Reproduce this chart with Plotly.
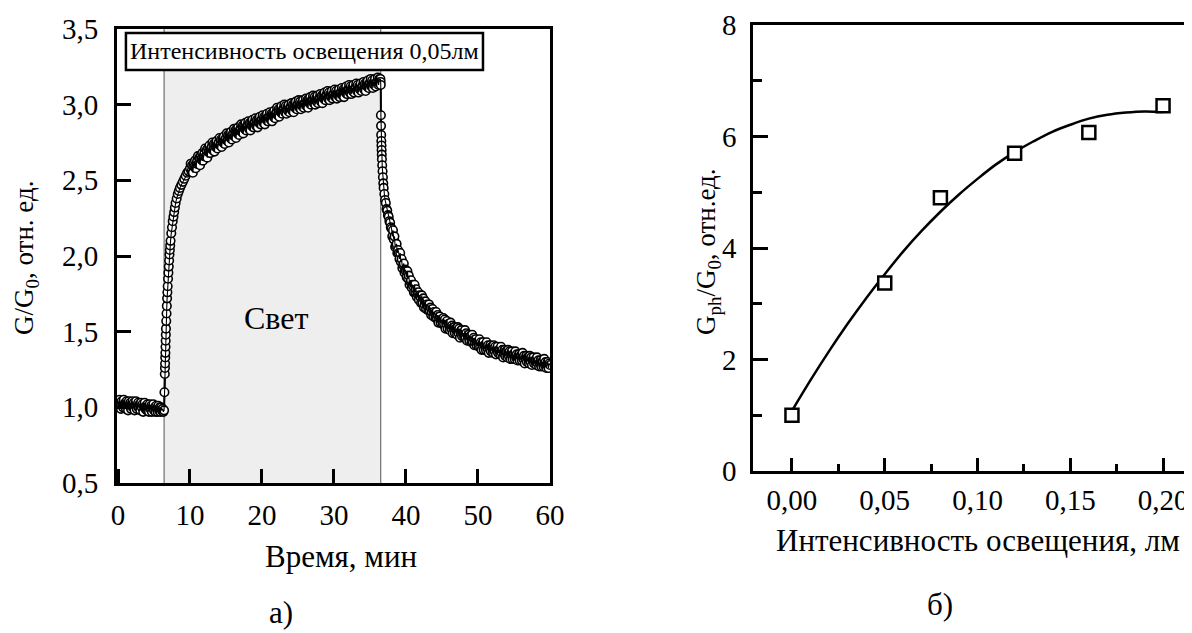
import plotly.graph_objects as go

# ---------------- Panel a) : G/G0 vs time (min) ----------------
dark_t = [0.0, 0.1, 0.2, 0.3, 0.4, 0.5, 0.6, 0.7, 0.8, 0.9,
          1.0, 1.1, 1.2, 1.3, 1.4, 1.5, 1.6, 1.7, 1.8, 1.9,
          2.0, 2.1, 2.2, 2.3, 2.4, 2.5, 2.6, 2.7, 2.8, 2.9,
          3.0, 3.1, 3.2, 3.3, 3.4, 3.5, 3.6, 3.7, 3.8, 3.9,
          4.0, 4.1, 4.2, 4.3, 4.4, 4.5, 4.6, 4.7, 4.8, 4.9,
          5.0, 5.1, 5.2, 5.3, 5.4, 5.5, 5.6, 5.7, 5.8, 5.9,
          6.0, 6.1, 6.2, 6.3, 6.4]
dark_g = [1.03, 1.00, 1.05, 1.01, 0.99, 1.04, 1.02, 1.00, 1.05, 1.01,
          1.03, 0.99, 1.04, 1.01, 0.98, 1.04, 1.01, 1.03, 0.99, 1.02,
          1.04, 1.00, 1.03, 0.98, 1.02, 1.04, 0.99, 1.01, 1.03, 1.00,
          1.02, 0.98, 1.03, 1.00, 1.02, 0.97, 1.01, 1.03, 0.99, 1.01,
          0.98, 1.02, 1.00, 0.97, 1.02, 0.99, 1.01, 0.97, 1.00, 1.02,
          0.98, 1.00, 0.97, 1.01, 0.99, 0.97, 1.01, 0.98, 1.00, 0.97,
          1.00, 0.98, 0.99, 0.97, 0.98]

rise_fast_t = [6.45, 6.50, 6.52, 6.54, 6.56, 6.58, 6.60, 6.62, 6.64, 6.66, 6.70, 6.74, 6.78, 6.82,
               6.86, 6.90, 6.95, 7.00, 7.05, 7.10, 7.15, 7.20, 7.25, 7.30, 7.40, 7.50, 7.60, 7.70,
               7.80, 7.90, 8.00, 8.15, 8.30, 8.45, 8.60, 8.80, 9.00, 9.20, 9.40, 9.60, 9.80]
rise_fast_g = [1.10, 1.22, 1.26, 1.29, 1.33, 1.36, 1.40, 1.44, 1.48, 1.52, 1.57, 1.62, 1.67, 1.72,
               1.76, 1.80, 1.85, 1.89, 1.93, 1.97, 2.01, 2.04, 2.07, 2.10, 2.15, 2.19, 2.23, 2.26,
               2.29, 2.32, 2.35, 2.38, 2.41, 2.43, 2.45, 2.47, 2.49, 2.51, 2.53, 2.55, 2.56]

rise_slow_t = [10.0, 10.1, 10.2, 10.3, 10.4, 10.5, 10.6, 10.7, 10.8, 10.9,
               11.0, 11.1, 11.2, 11.3, 11.4, 11.5, 11.6, 11.7, 11.8, 11.9,
               12.0, 12.1, 12.2, 12.3, 12.4, 12.5, 12.6, 12.7, 12.8, 12.9,
               13.0, 13.1, 13.2, 13.3, 13.4, 13.5, 13.6, 13.7, 13.8, 13.9,
               14.0, 14.1, 14.2, 14.3, 14.4, 14.5, 14.6, 14.7, 14.8, 14.9,
               15.0, 15.1, 15.2, 15.3, 15.4, 15.5, 15.6, 15.7, 15.8, 15.9,
               16.0, 16.1, 16.2, 16.3, 16.4, 16.5, 16.6, 16.7, 16.8, 16.9,
               17.0, 17.1, 17.2, 17.3, 17.4, 17.5, 17.6, 17.7, 17.8, 17.9,
               18.0, 18.1, 18.2, 18.3, 18.4, 18.5, 18.6, 18.7, 18.8, 18.9,
               19.0, 19.1, 19.2, 19.3, 19.4, 19.5, 19.6, 19.7, 19.8, 19.9,
               20.0, 20.1, 20.2, 20.3, 20.4, 20.5, 20.6, 20.7, 20.8, 20.9,
               21.0, 21.1, 21.2, 21.3, 21.4, 21.5, 21.6, 21.7, 21.8, 21.9,
               22.0, 22.1, 22.2, 22.3, 22.4, 22.5, 22.6, 22.7, 22.8, 22.9,
               23.0, 23.1, 23.2, 23.3, 23.4, 23.5, 23.6, 23.7, 23.8, 23.9,
               24.0, 24.1, 24.2, 24.3, 24.4, 24.5, 24.6, 24.7, 24.8, 24.9,
               25.0, 25.1, 25.2, 25.3, 25.4, 25.5, 25.6, 25.7, 25.8, 25.9,
               26.0, 26.1, 26.2, 26.3, 26.4, 26.5, 26.6, 26.7, 26.8, 26.9,
               27.0, 27.1, 27.2, 27.3, 27.4, 27.5, 27.6, 27.7, 27.8, 27.9,
               28.0, 28.1, 28.2, 28.3, 28.4, 28.5, 28.6, 28.7, 28.8, 28.9,
               29.0, 29.1, 29.2, 29.3, 29.4, 29.5, 29.6, 29.7, 29.8, 29.9,
               30.0, 30.1, 30.2, 30.3, 30.4, 30.5, 30.6, 30.7, 30.8, 30.9,
               31.0, 31.1, 31.2, 31.3, 31.4, 31.5, 31.6, 31.7, 31.8, 31.9,
               32.0, 32.1, 32.2, 32.3, 32.4, 32.5, 32.6, 32.7, 32.8, 32.9,
               33.0, 33.1, 33.2, 33.3, 33.4, 33.5, 33.6, 33.7, 33.8, 33.9,
               34.0, 34.1, 34.2, 34.3, 34.4, 34.5, 34.6, 34.7, 34.8, 34.9,
               35.0, 35.1, 35.2, 35.3, 35.4, 35.5, 35.6, 35.7, 35.8, 35.9,
               36.0, 36.1, 36.2, 36.3, 36.4]
rise_slow_g = [2.58, 2.61, 2.56, 2.60, 2.55, 2.61, 2.59, 2.63, 2.58, 2.61,
               2.63, 2.66, 2.61, 2.65, 2.60, 2.66, 2.64, 2.68, 2.63, 2.66,
               2.68, 2.71, 2.66, 2.70, 2.65, 2.71, 2.69, 2.73, 2.68, 2.71,
               2.72, 2.75, 2.70, 2.74, 2.69, 2.74, 2.72, 2.76, 2.71, 2.74,
               2.75, 2.78, 2.73, 2.77, 2.72, 2.77, 2.75, 2.79, 2.74, 2.77,
               2.78, 2.81, 2.76, 2.80, 2.75, 2.80, 2.78, 2.82, 2.77, 2.80,
               2.81, 2.84, 2.79, 2.83, 2.78, 2.83, 2.81, 2.85, 2.80, 2.83,
               2.84, 2.87, 2.82, 2.86, 2.81, 2.86, 2.84, 2.88, 2.83, 2.86,
               2.86, 2.89, 2.84, 2.88, 2.83, 2.88, 2.86, 2.90, 2.85, 2.88,
               2.88, 2.91, 2.86, 2.90, 2.85, 2.90, 2.88, 2.92, 2.87, 2.90,
               2.90, 2.93, 2.88, 2.92, 2.87, 2.92, 2.90, 2.94, 2.89, 2.92,
               2.92, 2.95, 2.90, 2.94, 2.89, 2.94, 2.92, 2.96, 2.91, 2.94,
               2.95, 2.98, 2.93, 2.97, 2.92, 2.97, 2.95, 2.99, 2.94, 2.97,
               2.97, 3.00, 2.95, 2.99, 2.94, 2.98, 2.96, 3.00, 2.95, 2.98,
               2.98, 3.01, 2.96, 3.00, 2.95, 3.00, 2.98, 3.02, 2.97, 3.00,
               3.00, 3.03, 2.98, 3.02, 2.97, 3.01, 2.99, 3.03, 2.98, 3.01,
               3.01, 3.04, 2.99, 3.03, 2.98, 3.03, 3.01, 3.05, 3.00, 3.03,
               3.03, 3.06, 3.01, 3.05, 3.00, 3.04, 3.02, 3.06, 3.01, 3.04,
               3.04, 3.07, 3.02, 3.06, 3.01, 3.06, 3.04, 3.08, 3.03, 3.06,
               3.06, 3.09, 3.04, 3.08, 3.03, 3.07, 3.05, 3.09, 3.04, 3.07,
               3.07, 3.10, 3.05, 3.09, 3.04, 3.08, 3.06, 3.10, 3.05, 3.08,
               3.08, 3.11, 3.06, 3.10, 3.05, 3.10, 3.08, 3.12, 3.07, 3.10,
               3.10, 3.13, 3.08, 3.12, 3.07, 3.11, 3.09, 3.13, 3.08, 3.11,
               3.11, 3.14, 3.09, 3.13, 3.08, 3.12, 3.10, 3.14, 3.09, 3.12,
               3.12, 3.15, 3.10, 3.14, 3.09, 3.14, 3.12, 3.16, 3.11, 3.14,
               3.14, 3.17, 3.12, 3.16, 3.11, 3.15, 3.13, 3.17, 3.12, 3.15,
               3.15, 3.18, 3.13, 3.17, 3.16]

decay_fast_t = [36.45, 36.48, 36.50, 36.52, 36.54, 36.56, 36.58, 36.60, 36.62, 36.64, 36.66, 36.70, 36.75,
                36.80, 36.85, 36.90, 37.0, 37.1, 37.2, 37.3, 37.4, 37.5, 37.6, 37.7, 37.8, 37.9]
decay_fast_g = [3.17, 3.15, 3.13, 2.93, 2.86, 2.80, 2.76, 2.73, 2.70, 2.67, 2.64, 2.60, 2.56,
                2.52, 2.48, 2.45, 2.41, 2.37, 2.35, 2.31, 2.30, 2.27, 2.26, 2.23, 2.22, 2.19]

decay_slow_t = [38.0, 38.1, 38.2, 38.3, 38.4, 38.5, 38.6, 38.7, 38.8, 38.9,
                39.0, 39.1, 39.2, 39.3, 39.4, 39.5, 39.6, 39.7, 39.8, 39.9,
                40.0, 40.1, 40.2, 40.3, 40.4, 40.5, 40.6, 40.7, 40.8, 40.9,
                41.0, 41.1, 41.2, 41.3, 41.4, 41.5, 41.6, 41.7, 41.8, 41.9,
                42.0, 42.1, 42.2, 42.3, 42.4, 42.5, 42.6, 42.7, 42.8, 42.9,
                43.0, 43.1, 43.2, 43.3, 43.4, 43.5, 43.6, 43.7, 43.8, 43.9,
                44.0, 44.1, 44.2, 44.3, 44.4, 44.5, 44.6, 44.7, 44.8, 44.9,
                45.0, 45.1, 45.2, 45.3, 45.4, 45.5, 45.6, 45.7, 45.8, 45.9,
                46.0, 46.1, 46.2, 46.3, 46.4, 46.5, 46.6, 46.7, 46.8, 46.9,
                47.0, 47.1, 47.2, 47.3, 47.4, 47.5, 47.6, 47.7, 47.8, 47.9,
                48.0, 48.1, 48.2, 48.3, 48.4, 48.5, 48.6, 48.7, 48.8, 48.9,
                49.0, 49.1, 49.2, 49.3, 49.4, 49.5, 49.6, 49.7, 49.8, 49.9,
                50.0, 50.1, 50.2, 50.3, 50.4, 50.5, 50.6, 50.7, 50.8, 50.9,
                51.0, 51.1, 51.2, 51.3, 51.4, 51.5, 51.6, 51.7, 51.8, 51.9,
                52.0, 52.1, 52.2, 52.3, 52.4, 52.5, 52.6, 52.7, 52.8, 52.9,
                53.0, 53.1, 53.2, 53.3, 53.4, 53.5, 53.6, 53.7, 53.8, 53.9,
                54.0, 54.1, 54.2, 54.3, 54.4, 54.5, 54.6, 54.7, 54.8, 54.9,
                55.0, 55.1, 55.2, 55.3, 55.4, 55.5, 55.6, 55.7, 55.8, 55.9,
                56.0, 56.1, 56.2, 56.3, 56.4, 56.5, 56.6, 56.7, 56.8, 56.9,
                57.0, 57.1, 57.2, 57.3, 57.4, 57.5, 57.6, 57.7, 57.8, 57.9,
                58.0, 58.1, 58.2, 58.3, 58.4, 58.5, 58.6, 58.7, 58.8, 58.9,
                59.0, 59.1, 59.2, 59.3, 59.4, 59.5, 59.6, 59.7, 59.8, 59.9,
                60.0]
decay_slow_g = [2.18, 2.13, 2.17, 2.11, 2.13, 2.06, 2.07, 2.08, 2.02, 2.04,
                2.02, 1.98, 2.02, 1.96, 1.98, 1.92, 1.94, 1.95, 1.89, 1.91,
                1.90, 1.86, 1.90, 1.85, 1.87, 1.81, 1.83, 1.84, 1.79, 1.81,
                1.80, 1.76, 1.81, 1.76, 1.78, 1.73, 1.75, 1.76, 1.71, 1.74,
                1.73, 1.69, 1.74, 1.69, 1.72, 1.66, 1.68, 1.70, 1.65, 1.68,
                1.67, 1.64, 1.68, 1.64, 1.66, 1.61, 1.63, 1.65, 1.60, 1.63,
                1.62, 1.59, 1.63, 1.59, 1.61, 1.56, 1.59, 1.60, 1.56, 1.58,
                1.58, 1.55, 1.59, 1.55, 1.58, 1.52, 1.55, 1.57, 1.52, 1.55,
                1.55, 1.51, 1.56, 1.52, 1.54, 1.49, 1.52, 1.53, 1.49, 1.52,
                1.52, 1.48, 1.53, 1.49, 1.52, 1.46, 1.49, 1.51, 1.47, 1.49,
                1.49, 1.46, 1.51, 1.46, 1.49, 1.44, 1.47, 1.48, 1.44, 1.47,
                1.47, 1.43, 1.48, 1.43, 1.46, 1.41, 1.43, 1.45, 1.41, 1.43,
                1.43, 1.40, 1.45, 1.40, 1.43, 1.38, 1.41, 1.43, 1.38, 1.41,
                1.41, 1.38, 1.43, 1.39, 1.41, 1.36, 1.39, 1.41, 1.37, 1.40,
                1.40, 1.36, 1.41, 1.37, 1.40, 1.35, 1.38, 1.40, 1.36, 1.38,
                1.38, 1.35, 1.40, 1.36, 1.38, 1.33, 1.36, 1.38, 1.34, 1.37,
                1.37, 1.33, 1.38, 1.34, 1.37, 1.32, 1.35, 1.37, 1.32, 1.35,
                1.35, 1.32, 1.37, 1.33, 1.35, 1.31, 1.33, 1.35, 1.31, 1.34,
                1.34, 1.31, 1.36, 1.32, 1.34, 1.29, 1.32, 1.34, 1.30, 1.33,
                1.33, 1.29, 1.34, 1.30, 1.33, 1.28, 1.31, 1.33, 1.29, 1.31,
                1.31, 1.28, 1.33, 1.29, 1.31, 1.27, 1.29, 1.31, 1.27, 1.30,
                1.30, 1.27, 1.32, 1.28, 1.30, 1.26, 1.28, 1.30, 1.26, 1.29,
                1.28]

light_on = 6.4
light_off = 36.5

# ---------------- Panel b) : Gph/G0 vs illumination (lm) ----------------
intensity = [0.00, 0.05, 0.08, 0.12, 0.16, 0.20]
gph_ratio = [1.00, 3.37, 4.90, 5.70, 6.07, 6.55]
fit_x = [0.00, 0.01, 0.02, 0.03, 0.04, 0.05, 0.06, 0.07, 0.08, 0.09, 0.10,
         0.11, 0.12, 0.13, 0.14, 0.15, 0.16, 0.17, 0.18, 0.19, 0.20]
fit_y = [1.08, 1.63, 2.15, 2.64, 3.10, 3.53, 3.94, 4.31, 4.65, 4.96, 5.24,
         5.50, 5.72, 5.91, 6.08, 6.21, 6.32, 6.39, 6.43, 6.45, 6.44]

assert len(dark_t) == len(dark_g)
assert len(rise_fast_t) == len(rise_fast_g)
assert len(rise_slow_t) == len(rise_slow_g)
assert len(decay_fast_t) == len(decay_fast_g)
assert len(decay_slow_t) == len(decay_slow_g)

# the page body adds an 8 px margin, so the figure is made 8 px smaller
OFF = 8
W, H = 1192 - OFF, 633 - OFF
FONT = "Liberation Serif"

def px(x):
    return (x - OFF) / W

def py(y):
    return 1 - (y - OFF) / H

time_all = dark_t + rise_fast_t + rise_slow_t + decay_fast_t + decay_slow_t
g_all = dark_g + rise_fast_g + rise_slow_g + decay_fast_g + decay_slow_g

fig = go.Figure()

# open-circle markers joined by a line; the joining line is drawn over the markers again
fig.add_trace(go.Scatter(
    x=time_all, y=g_all, mode="lines+markers", xaxis="x", yaxis="y",
    line=dict(color="black", width=2),
    marker=dict(symbol="circle", size=8.5, color="white", line=dict(color="black", width=1.6)),
    showlegend=False))
fig.add_trace(go.Scatter(
    x=time_all, y=g_all, mode="lines", xaxis="x", yaxis="y",
    line=dict(color="black", width=1.1), showlegend=False, hoverinfo="skip"))

fig.add_trace(go.Scatter(
    x=fit_x, y=fit_y, mode="lines", xaxis="x2", yaxis="y2",
    line=dict(color="black", width=2.5, shape="spline"), showlegend=False))
fig.add_trace(go.Scatter(
    x=intensity, y=gph_ratio, mode="markers", xaxis="x2", yaxis="y2",
    marker=dict(symbol="square", size=13, color="white", line=dict(color="black", width=2.5)),
    showlegend=False))

tickfont = dict(family=FONT, size=29, color="black")

fig.update_layout(
    template="none",
    width=W, height=H, margin=dict(l=0, r=0, t=0, b=0, pad=0),
    paper_bgcolor="white", plot_bgcolor="white",
    separators=", ",
    xaxis=dict(domain=[px(117), px(550)], range=[-0.14, 60.01], anchor="y", automargin=False,
               tickvals=[0, 10, 20, 30, 40, 50, 60], ticktext=["0", "10", "20", "30", "40", "50", "60"],
               ticks="inside", ticklen=14, tickwidth=2.5, tickcolor="black",
               showline=True, linewidth=3, linecolor="black", mirror=True,
               showgrid=False, zeroline=False, tickfont=tickfont, ticklabelstandoff=4),
    yaxis=dict(domain=[py(483), py(29)], range=[0.5, 3.5], anchor="x", automargin=False,
               tickvals=[0.5, 1.0, 1.5, 2.0, 2.5, 3.0, 3.5],
               ticktext=["0,5", "1,0", "1,5", "2,0", "2,5", "3,0", "3,5"],
               ticks="inside", ticklen=14, tickwidth=2.5, tickcolor="black",
               showline=True, linewidth=3, linecolor="black", mirror=True,
               showgrid=False, zeroline=False, tickfont=tickfont, ticklabelstandoff=10),
    xaxis2=dict(domain=[px(753), 1.0], range=[-0.021, 0.2156], anchor="y2", automargin=False,
                tickvals=[0.0, 0.05, 0.10, 0.15, 0.20],
                ticktext=["0,00", "0,05", "0,10", "0,15", "0,20"],
                ticks="inside", ticklen=13, tickwidth=2.5, tickcolor="black",
                minor=dict(tickvals=[0.025, 0.075, 0.125, 0.175], ticks="inside", ticklen=7,
                           tickwidth=2.5, tickcolor="black", showgrid=False),
                showline=True, linewidth=2.5, linecolor="black", mirror=True,
                showgrid=False, zeroline=False, tickfont=tickfont, ticklabelstandoff=1),
    yaxis2=dict(domain=[py(471), py(25)], range=[0, 8], anchor="x2", automargin=False,
                tickvals=[0, 2, 4, 6, 8], ticktext=["0", "2", "4", "6", "8"],
                ticks="inside", ticklen=15, tickwidth=2.5, tickcolor="black",
                minor=dict(tickvals=[1, 3, 5, 7], ticks="inside", ticklen=9,
                           tickwidth=2.5, tickcolor="black", showgrid=False),
                showline=True, linewidth=2.5, linecolor="black", mirror=False,
                showgrid=False, zeroline=False, tickfont=tickfont, ticklabelstandoff=8),
)

# illuminated period shading and boundary lines
fig.add_shape(type="rect", xref="x", yref="y", x0=light_on, x1=light_off, y0=0.5, y1=3.5,
              fillcolor="#eeeeee", line=dict(width=0), layer="below")
for xv in (light_on, light_off):
    fig.add_shape(type="line", xref="x", yref="y", x0=xv, x1=xv, y0=0.5, y1=3.5,
                  line=dict(color="#555555", width=1), layer="below")

# label box
fig.add_shape(type="rect", xref="x", yref="y", x0=1.1, x1=50.7, y0=3.229, y1=3.474,
              fillcolor="white", line=dict(color="black", width=2.5), layer="above")

annots = [
    dict(text="Интенсивность освещения 0,05лм", x=25.9, y=3.352, xref="x", yref="y", size=24),
    dict(text="Свет", x=px(276), y=py(318), xref="paper", yref="paper", size=32),
    dict(text="Время, мин", x=px(341), y=py(556), xref="paper", yref="paper", size=31),
    dict(text="а)", x=px(281), y=py(612), xref="paper", yref="paper", size=31),
    dict(text="Интенсивность освещения, лм", x=px(978), y=py(540), xref="paper", yref="paper", size=31),
    dict(text="б)", x=px(940), y=py(604), xref="paper", yref="paper", size=31),
]
for a in annots:
    fig.add_annotation(text=a["text"], x=a["x"], y=a["y"], xref=a["xref"], yref=a["yref"],
                       showarrow=False, xanchor="center", yanchor="middle",
                       font=dict(family=FONT, size=a["size"], color="black"))

fig.add_annotation(text="G/G<sub>0</sub>, отн. ед.", x=px(26), y=py(258), xref="paper", yref="paper",
                   showarrow=False, textangle=-90, xanchor="center", yanchor="middle",
                   font=dict(family=FONT, size=27, color="black"))
fig.add_annotation(text="G<sub>ph</sub>/G<sub>0</sub>, отн.ед.", x=px(708), y=py(252), xref="paper",
                   yref="paper", showarrow=False, textangle=-90, xanchor="center", yanchor="middle",
                   font=dict(family=FONT, size=27, color="black"))

fig.write_html("out.html")
